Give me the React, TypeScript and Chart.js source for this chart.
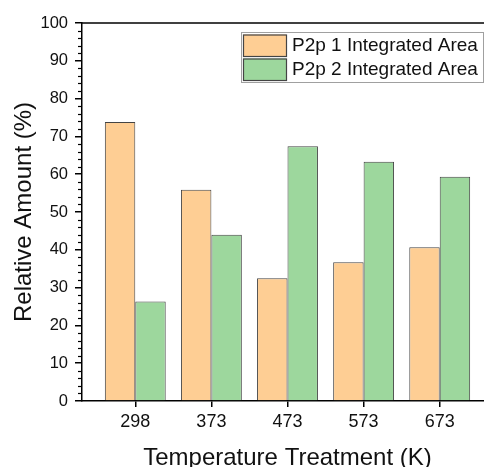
import React, { useEffect, useRef } from "react";
import { Chart, registerables } from "chart.js";

Chart.register(...registerables);

const categories = ["298", "373", "473", "573", "673"];
const p2p1Values = [73.8, 55.9, 32.5, 36.7, 40.7];
const p2p2Values = [26.3, 44.0, 67.4, 63.3, 59.3];
const seriesLabels = ["P2p 1 Integrated Area", "P2p 2 Integrated Area"];
const yTicks = [0, 10, 20, 30, 40, 50, 60, 70, 80, 90, 100];

const FONT = "'Liberation Sans', Arial, sans-serif";
const ORANGE = "#FECE94";
const GREEN = "#9DD79D";
const EDGE = "#444444";
// the plot frame continues past the right edge of the picture
const RIGHT_OVERHANG = 9;

const framePlugin = {
  id: "frame",
  afterLayout(chart: any) {
    const x = chart.scales.x;
    x.right += RIGHT_OVERHANG;
    x.width += RIGHT_OVERHANG;
    chart.chartArea.right += RIGHT_OVERHANG;
    chart.chartArea.width += RIGHT_OVERHANG;
    x.configure();
  },
  afterDraw(chart: any) {
    const { ctx, chartArea, scales } = chart;
    const y = scales.y;
    ctx.save();
    ctx.strokeStyle = "#000";
    ctx.lineWidth = 1.5;
    ctx.beginPath();
    ctx.moveTo(chartArea.left, chartArea.top);
    ctx.lineTo(chartArea.right, chartArea.top);
    ctx.stroke();
    // minor ticks on y
    ctx.lineWidth = 1.2;
    for (let v = 0; v <= 100; v += 2) {
      if (v % 10 === 0) continue;
      const py = Math.round(y.getPixelForValue(v)) + 0.5;
      ctx.beginPath();
      ctx.moveTo(chartArea.left - 4, py);
      ctx.lineTo(chartArea.left, py);
      ctx.stroke();
    }
    // legend
    const boxL = chartArea.right - 252;
    const boxT = chartArea.top + 9;
    const boxW = 242;
    const boxH = 50;
    ctx.fillStyle = "#fff";
    ctx.fillRect(boxL, boxT, boxW, boxH);
    ctx.strokeStyle = "#a0a0a0";
    ctx.lineWidth = 1;
    ctx.strokeRect(boxL + 0.5, boxT + 0.5, boxW, boxH);
    chart.data.datasets.forEach((ds: any, i: number) => {
      const sx = boxL + 2;
      const sy = boxT + 2.5 + i * 24;
      ctx.fillStyle = ds.backgroundColor;
      ctx.fillRect(sx, sy, 43, 21.5);
      ctx.strokeStyle = EDGE;
      ctx.lineWidth = 1.2;
      ctx.strokeRect(sx + 0.5, sy + 0.5, 43, 21.5);
      ctx.fillStyle = "#111";
      ctx.font = `19px ${FONT}`;
      ctx.textBaseline = "middle";
      ctx.textAlign = "left";
      ctx.fillText(ds.label, sx + 49, sy + 11.5);
    });
    ctx.restore();
  },
};

export default function App() {
  const ref = useRef<HTMLCanvasElement | null>(null);

  useEffect(() => {
    if (!ref.current) return;
    const chart = new Chart(ref.current, {
      type: "bar",
      data: {
        datasets: [
          {
            label: seriesLabels[0],
            data: categories.map((_, i) => ({ x: i, y: p2p1Values[i] })),
            backgroundColor: ORANGE,
            borderColor: EDGE,
            borderWidth: 1,
            barPercentage: 1,
            categoryPercentage: 0.8,
          },
          {
            label: seriesLabels[1],
            data: categories.map((_, i) => ({ x: i, y: p2p2Values[i] })),
            backgroundColor: GREEN,
            borderColor: EDGE,
            borderWidth: 1,
            barPercentage: 1,
            categoryPercentage: 0.8,
          },
        ],
      },
      plugins: [framePlugin],
      options: {
        animation: false,
        responsive: false,
        maintainAspectRatio: false,
        layout: { padding: { left: 0, top: 23, right: 0, bottom: 0 } },
        plugins: {
          legend: { display: false },
          tooltip: { enabled: false },
        },
        scales: {
          x: {
            type: "linear",
            min: -0.7,
            max: 4.7,
            offset: false,
            afterBuildTicks: (scale: any) => {
              scale.ticks = categories.map((_, i) => ({ value: i }));
            },
            afterFit: (scale: any) => {
              scale.height = 66;
            },
            grid: {
              offset: false,
              drawOnChartArea: false,
              drawTicks: true,
              tickLength: 6,
              color: "#000",
              lineWidth: 1.5,
            },
            border: { display: true, color: "#000", width: 1.5 },
            ticks: {
              color: "#111",
              padding: 6.5,
              font: { family: FONT, size: 18, lineHeight: 1 },
              maxRotation: 0,
              callback: (v: any) => categories[v] ?? "",
            },
            title: {
              display: true,
              text: "Temperature Treatment (K)",
              color: "#111",
              font: { family: FONT, size: 24, lineHeight: 0.7 },
              padding: { top: 0, bottom: 0 },
            },
          },
          y: {
            min: 0,
            max: 100,
            afterBuildTicks: (scale: any) => {
              scale.ticks = yTicks.map((v) => ({ value: v }));
            },
            afterFit: (scale: any) => {
              scale.width = 82;
            },
            grid: {
              drawOnChartArea: false,
              drawTicks: true,
              tickLength: 7,
              color: "#000",
              lineWidth: 1.5,
            },
            border: { display: true, color: "#000", width: 1.5 },
            ticks: {
              color: "#111",
              padding: 7,
              font: { family: FONT, size: 16.5, lineHeight: 1 },
            },
            title: {
              display: true,
              text: "Relative Amount (%)",
              color: "#111",
              font: { family: FONT, size: 24, lineHeight: 1 },
              padding: { top: 12.5, bottom: 0 },
            },
          },
        },
      },
    } as any);
    return () => chart.destroy();
  }, []);

  return (
    <div
      style={{
        position: "absolute",
        left: 0,
        top: 0,
        width: 484,
        height: 467,
        overflow: "hidden",
        background: "#fff",
      }}
    >
      <canvas
        ref={ref}
        width={484}
        height={467}
        style={{ width: 484, height: 467, display: "block" }}
      />
    </div>
  );
}
